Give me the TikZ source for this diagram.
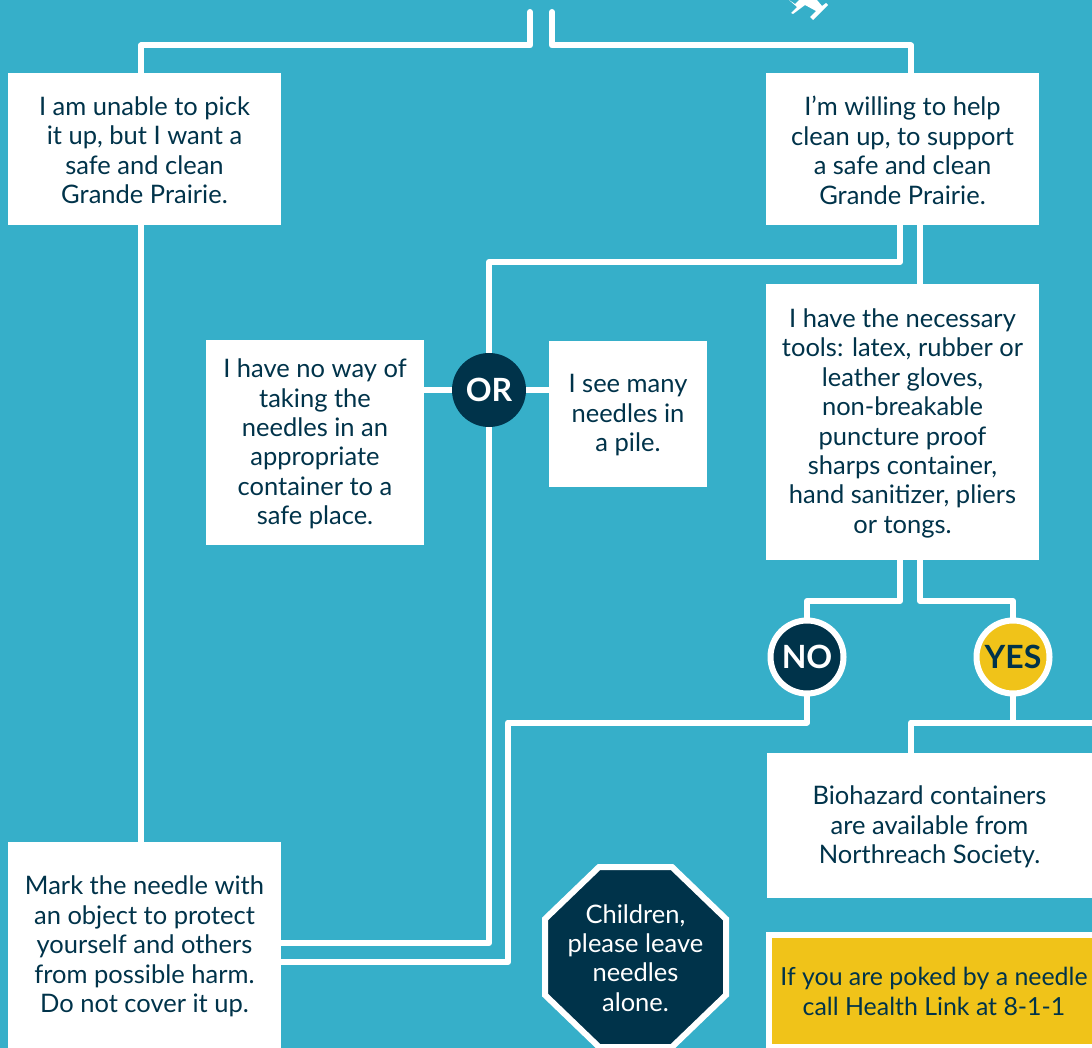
\documentclass[tikz,border=0pt]{standalone}
\usepackage{fontspec}
\setmainfont{Lato}
\definecolor{bgc}{HTML}{36AFC9}
\definecolor{dk}{HTML}{00334A}
\definecolor{yl}{HTML}{F0C319}
\tikzset{
 x=1pt,y=-1pt,
 link/.style={draw=white,line width=6pt,line join=round,line cap=round},
 txt/.style={align=center,text=dk,font=\fontsize{25.5}{29.4}\selectfont,inner sep=0pt,anchor=center},
 boxw/.style={fill=white,draw=none},
 badge/.style={circle,minimum size=73pt,inner sep=0pt,font=\fontsize{32}{32}\selectfont\bfseries},
}
\newcommand{\boxat}[6]{% name x1 y1 x2 y2 text
 \path[boxw] (#2,#3) rectangle (#4,#5);
 \node[txt] (#1) at ({(#2+#4)/2},{(#3+#5)/2+1.4}) {#6};
 \coordinate (#1n) at ({(#2+#4)/2},#3);
}
\begin{document}
\begin{tikzpicture}
\useasboundingbox (0,0) rectangle (1092,1048);
\fill[bgc] (0,0) rectangle (1092,1048);
% connectors (under the boxes)
\coordinate (startL) at (530,12);
\coordinate (startR) at (552,12);
\coordinate (boxAtop) at (141,76);
\coordinate (boxAbot) at (141,222);
\coordinate (boxFtop) at (141,845);
\coordinate (boxBtop) at (911,76);
\coordinate (boxBbotL) at (900,222);
\coordinate (boxBbotR) at (920,222);
\coordinate (boxCtop) at (920,287);
\coordinate (boxCbotL) at (900,557);
\coordinate (boxCbotR) at (920,557);
\coordinate (boxFr1) at (278,943);
\coordinate (boxFr2) at (278,962);
\coordinate (boxGtop) at (911,756);
\coordinate (rightEnd) at (1095,722.5);
\coordinate (orC) at (489,390);
\coordinate (noC) at (807,657);
\coordinate (yesC) at (1013,657);
\coordinate (boxDr) at (421,390);
\coordinate (boxEl) at (552,390);
\draw[link] (startL) |- (boxAtop |- 0,45.5) -- (boxAtop);
\draw[link] (startR) |- (boxBtop |- 0,45.5) -- (boxBtop);
\draw[link] (boxAbot) -- (boxFtop);
\draw[link] (boxBbotL) |- (orC |- 0,262) -- (orC |- boxFr1) -- (boxFr1);
\draw[link] (boxBbotR) -- (boxCtop);
\draw[link] (boxDr) -- (boxEl);
\draw[link] (boxCbotL) |- (noC |- 0,601) -- (noC);
\draw[link] (boxCbotR) |- (yesC |- 0,601) -- (yesC);
\draw[link] (noC) -- (noC |- 0,722.5) -- (508,722.5) -- (508,962) -- (boxFr2);
\draw[link] (yesC) -- (yesC |- 0,722.5);
\draw[link] (boxGtop) -- (boxGtop |- 0,722.5) -- (rightEnd);
% syringe fragment
\fill[white] (789,0) -- (795,4) -- (799,0) -- (817,0) -- (822,6) -- (826,3) -- (828,5) -- (813,20) -- (810,17) -- (816,11) -- (805,5) -- (793,14) -- (791,13) -- (797,7) -- cycle;
% boxes
\boxat{A}{8}{73}{281}{225}{I am unable to pick\\it up, but I want a\\safe and clean\\Grande Prairie.}
\boxat{B}{766}{73}{1039}{225}{I’m willing to help\\clean up, to support\\a safe and clean\\Grande Prairie.}
\boxat{C}{766}{284}{1039}{560}{I have the necessary\\tools: latex, rubber or\\leather gloves,\\non-breakable\\puncture proof\\sharps container,\\hand sanitizer, pliers\\or tongs.}
\boxat{D}{206}{340}{424}{545}{I have no way of\\taking the\\needles in an\\appropriate\\container to a\\safe place.}
\boxat{E}{549}{341}{707}{487}{I see many\\needles in\\a pile.}
\boxat{F}{8}{842}{281}{1048}{Mark the needle with\\an object to protect\\yourself and others\\from possible harm.\\Do not cover it up.}
\boxat{G}{767}{753}{1092}{898}{Biohazard containers\\are available from\\Northreach Society.}
% yellow box
\path[fill=yl,draw=white,line width=6pt] (769,935) rectangle (1100,1047);
\node[txt,font=\fontsize{24.9}{29.3}\selectfont] (H) at (934,991.5) {If you are poked by a needle\\call Health Link at 8-1-1};
% badges
\node[badge,minimum size=74pt,fill=dk,text=white] (OR) at (orC) {OR};
\node[badge,fill=dk,text=white,draw=white,line width=6pt] (NO) at (noC) {NO};
\node[badge,fill=yl,text=dk,draw=white,line width=6pt] (YES) at (yesC) {YES};
% octagon
\path[fill=dk,draw=white,line width=6pt,line join=miter]
 (599,867) -- (672,867) -- (726,919) -- (726,995) -- (672,1047) -- (599,1047) -- (545,995) -- (545,919) -- cycle;
\node[txt,text=white] (K) at (635.5,958) {Children,\\please leave\\needles\\alone.};
\end{tikzpicture}
\end{document}
